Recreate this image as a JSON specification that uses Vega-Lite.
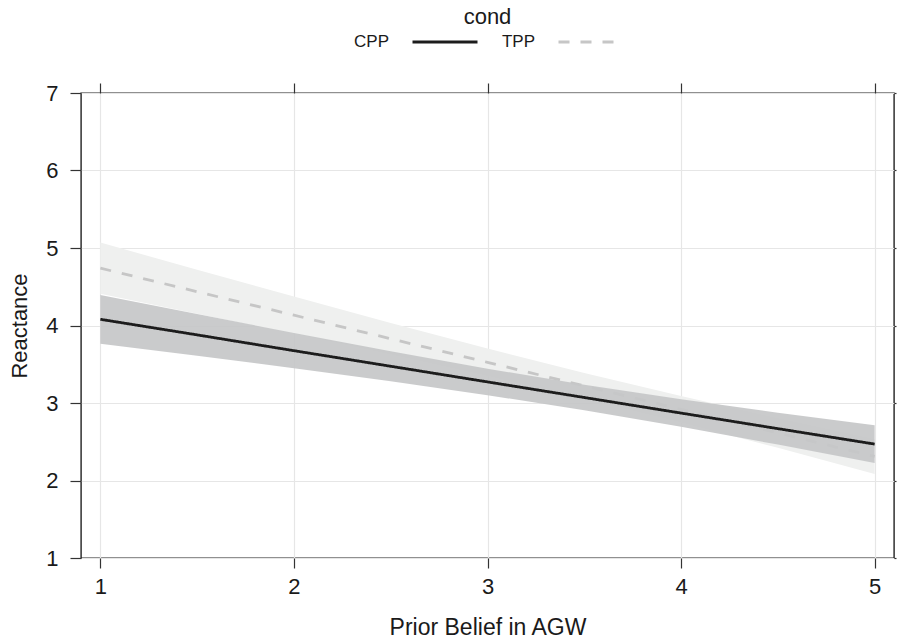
{
  "$schema": "https://vega.github.io/schema/vega-lite/v6.json",
  "width": 813,
  "height": 465,
  "autosize": {"type": "none"},
  "padding": {"left": 81, "top": 93, "right": 3, "bottom": 80},
  "background": "white",
  "title": {
    "text": "cond",
    "anchor": "middle",
    "frame": "group",
    "font": "Liberation Sans",
    "fontSize": 22,
    "fontWeight": "normal",
    "color": "#1a1a1a",
    "baseline": "alphabetic",
    "offset": -38
  },
  "config": {
    "font": "Liberation Sans",
    "view": {"stroke": "#222222", "strokeWidth": 1.4},
    "axis": {
      "gridColor": "#e6e6e6",
      "gridWidth": 1.2,
      "tickColor": "#333333",
      "tickWidth": 1.2,
      "domain": false,
      "labelFont": "Liberation Sans",
      "titleFont": "Liberation Sans",
      "labelFontSize": 22,
      "titleFontSize": 22,
      "labelColor": "#1a1a1a",
      "titleColor": "#1a1a1a",
      "titleFontWeight": "normal"
    }
  },
  "data": {
    "values": [
      {"cond": "CPP", "x": 1.0, "fit": 4.080, "lo": 3.765, "hi": 4.395},
      {"cond": "CPP", "x": 1.5, "fit": 3.879, "lo": 3.610, "hi": 4.148},
      {"cond": "CPP", "x": 2.0, "fit": 3.675, "lo": 3.448, "hi": 3.902},
      {"cond": "CPP", "x": 2.5, "fit": 3.474, "lo": 3.281, "hi": 3.667},
      {"cond": "CPP", "x": 3.0, "fit": 3.272, "lo": 3.101, "hi": 3.443},
      {"cond": "CPP", "x": 3.5, "fit": 3.071, "lo": 2.906, "hi": 3.236},
      {"cond": "CPP", "x": 4.0, "fit": 2.870, "lo": 2.692, "hi": 3.048},
      {"cond": "CPP", "x": 4.5, "fit": 2.669, "lo": 2.463, "hi": 2.875},
      {"cond": "CPP", "x": 5.0, "fit": 2.470, "lo": 2.227, "hi": 2.713},
      {"cond": "TPP", "x": 1.0, "fit": 4.740, "lo": 4.410, "hi": 5.070},
      {"cond": "TPP", "x": 1.5, "fit": 4.436, "lo": 4.152, "hi": 4.720},
      {"cond": "TPP", "x": 2.0, "fit": 4.133, "lo": 3.892, "hi": 4.374},
      {"cond": "TPP", "x": 2.5, "fit": 3.829, "lo": 3.625, "hi": 4.033},
      {"cond": "TPP", "x": 3.0, "fit": 3.525, "lo": 3.347, "hi": 3.703},
      {"cond": "TPP", "x": 3.5, "fit": 3.221, "lo": 3.056, "hi": 3.386},
      {"cond": "TPP", "x": 4.0, "fit": 2.918, "lo": 2.747, "hi": 3.089},
      {"cond": "TPP", "x": 4.5, "fit": 2.614, "lo": 2.422, "hi": 2.806},
      {"cond": "TPP", "x": 5.0, "fit": 2.310, "lo": 2.084, "hi": 2.536}
    ]
  },
  "layer": [
    {
      "encoding": {
        "x": {
          "field": "x",
          "type": "quantitative",
          "scale": {"domain": [0.9, 5.1], "nice": false, "zero": false},
          "axis": {
            "orient": "bottom",
            "values": [1, 2, 3, 4, 5],
            "format": "d",
            "grid": true,
            "tickSize": 10,
            "labelPadding": 8,
            "title": "Prior Belief in AGW",
            "titleFontSize": 23,
            "titlePadding": 19
          }
        }
      },
      "layer": [
        {
          "transform": [{"filter": "datum.cond === 'TPP'"}],
          "mark": {"type": "area", "fill": "#eff0ef", "opacity": 1},
          "encoding": {
            "y": {
              "field": "lo",
              "type": "quantitative",
              "scale": {"domain": [1, 7], "nice": false, "zero": false},
              "axis": {
                "orient": "left",
                "values": [1, 2, 3, 4, 5, 6, 7],
                "format": "d",
                "grid": true,
                "tickSize": 11,
                "labelPadding": 12,
                "title": "Reactance",
                "titlePadding": 14
              }
            },
            "y2": {"field": "hi"}
          }
        },
        {
          "transform": [{"filter": "datum.cond === 'TPP'"}],
          "mark": {"type": "line", "strokeWidth": 2.8},
          "encoding": {
            "y": {"field": "fit", "type": "quantitative"},
            "color": {
              "field": "cond",
              "type": "nominal",
              "scale": {"domain": ["CPP", "TPP"], "range": ["#1c1c1c", "#c6c6c6"]},
              "legend": {
                "title": null,
                "orient": "none",
                "legendX": 330,
                "legendY": -85,
                "direction": "horizontal",
                "symbolType": "stroke",
                "symbolSize": 4225,
                "symbolStrokeWidth": 2.8,
                "labelAlign": "right",
                "labelOffset": -90,
                "labelFontSize": 17,
                "labelColor": "#1a1a1a",
                "columnPadding": 17,
                "padding": 0
              }
            },
            "strokeDash": {
              "field": "cond",
              "type": "nominal",
              "scale": {"domain": ["CPP", "TPP"], "range": [[1, 0], [11, 11]]},
              "legend": {"title": null}
            }
          }
        },
        {
          "transform": [{"filter": "datum.cond === 'CPP'"}],
          "mark": {"type": "area", "fill": "#c6c7c8", "opacity": 0.92},
          "encoding": {
            "y": {"field": "lo", "type": "quantitative"},
            "y2": {"field": "hi"}
          }
        },
        {
          "transform": [{"filter": "datum.cond === 'CPP'"}],
          "mark": {"type": "line", "strokeWidth": 2.8},
          "encoding": {
            "y": {"field": "fit", "type": "quantitative"},
            "color": {"field": "cond", "type": "nominal"},
            "strokeDash": {"field": "cond", "type": "nominal"}
          }
        }
      ]
    },
    {
      "transform": [{"filter": "datum.cond === 'CPP'"}],
      "mark": {"type": "line", "opacity": 0},
      "encoding": {
        "x": {
          "field": "x",
          "type": "quantitative",
          "scale": {"domain": [0.9, 5.1], "nice": false, "zero": false},
          "axis": {
            "orient": "top",
            "values": [1, 2, 3, 4, 5],
            "labels": false,
            "grid": false,
            "tickSize": 10,
            "title": null
          }
        },
        "y": {
          "field": "fit",
          "type": "quantitative",
          "scale": {"domain": [1, 7], "nice": false, "zero": false},
          "axis": {
            "orient": "right",
            "values": [1, 2, 3, 4, 5, 6, 7],
            "labels": false,
            "grid": false,
            "tickSize": 2,
            "title": null
          }
        }
      }
    }
  ],
  "resolve": {"axis": {"x": "independent", "y": "independent"}}
}
